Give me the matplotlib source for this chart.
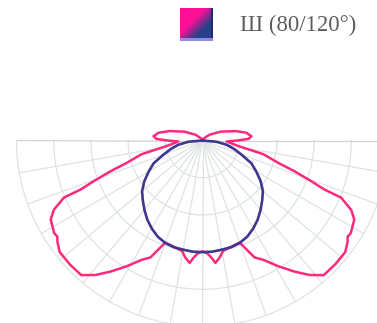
import numpy as np
import matplotlib
matplotlib.use('Agg')
import matplotlib.pyplot as plt
from matplotlib.colors import to_rgb

# Luminous intensity, angle from nadir (deg) -> value; curves are symmetric
blue_angles = [0, 5, 10, 15, 20, 25, 30, 35, 40, 45, 50, 55, 60, 65, 70, 75, 80, 85, 90]
blue_values = [300, 300, 298, 297, 293, 285, 273, 259, 243, 227, 212, 191, 167, 145, 112, 88, 66, 38, 0]

pink_angles = [0, 2.5, 4.5, 6, 8.5, 10.5, 15, 20, 24, 27, 31, 35, 38.5, 42, 47, 52, 55, 56.5,
               58, 62.5, 65, 67.6, 68.1, 69.5, 71.5, 73.5, 77.3, 81, 87.6, 90, 92, 95, 100,
               106, 116, 130, 150, 180]
pink_values = [298, 304, 317, 331, 317, 302, 296, 292, 344, 360, 394, 430, 462, 487, 488, 487, 476, 468,
               470, 460, 441, 403, 353, 312, 261, 213, 168, 100, 65, 94, 124, 132, 120,
               92, 54, 24, 6, 0]

ring_values = [100, 200, 300, 400, 500]
legend_label = 'Ш (80/120°)'

pink = '#fb2a7c'
navy = '#3f3690'
grid_col = '#dee3e3'

W, H = 377, 323
cx, cy, rad = 202.5, 140.5, 186


def mirrored(angles, values):
    a = np.radians(np.array(angles, dtype=float))
    v = np.array(values, dtype=float)
    return np.concatenate([-a[::-1], a[1:]]), np.concatenate([v[::-1], v[1:]])


fig = plt.figure(figsize=(W / 100, H / 100), dpi=100)
ax = fig.add_axes([(cx - rad) / W, (H - cy - rad) / H, 2 * rad / W, 2 * rad / H],
                  projection='polar')
ax.set_theta_zero_location('S')
ax.set_ylim(0, ring_values[-1])
ax.grid(False)
ax.set_xticks([])
ax.set_yticks([])
ax.spines['polar'].set_visible(False)
ax.patch.set_alpha(0)

# lower half grid: rings and spokes every 10 degrees
arc = np.radians(np.linspace(-90, 90, 181))
for rv in ring_values:
    ax.plot(arc, np.full_like(arc, rv), color=grid_col, lw=0.9, clip_on=False)
for deg in range(-90, 91, 10):
    col = '#cfd4d4' if abs(deg) == 90 else grid_col
    ax.plot([np.radians(deg)] * 2, [0, ring_values[-1]], color=col, lw=0.9, clip_on=False)

t, r = mirrored(pink_angles, pink_values)
ax.plot(t, r, color=pink, lw=1.8, solid_joinstyle='round')
t, r = mirrored(blue_angles, blue_values)
ax.plot(t, r, color=navy, lw=1.9, solid_joinstyle='round')

# legend swatch with diagonal pink -> navy blend
n = 33
ii, jj = np.mgrid[0:n, 0:n]
s = (ii + jj) / (2 * (n - 1))
w = np.clip((s - 0.38) / 0.3, 0, 1)[..., None]
img = (1 - w) * np.array(to_rgb('#ff0f96')) + w * np.array(to_rgb('#28408a'))
img[:, -2:] = to_rgb('#1e2a70')
img[-3:, :] = to_rgb('#8c8ce0')
sw = fig.add_axes([180 / W, (H - 41) / H, n / W, n / H])
sw.imshow(img, interpolation='bilinear', aspect='auto')
sw.axis('off')

fig.text(240 / W, (H - 30.7) / H, legend_label, family='Liberation Serif',
         fontsize=16.4, color='#5c5c5c', va='baseline')

fig.savefig('out.png', dpi=100)
